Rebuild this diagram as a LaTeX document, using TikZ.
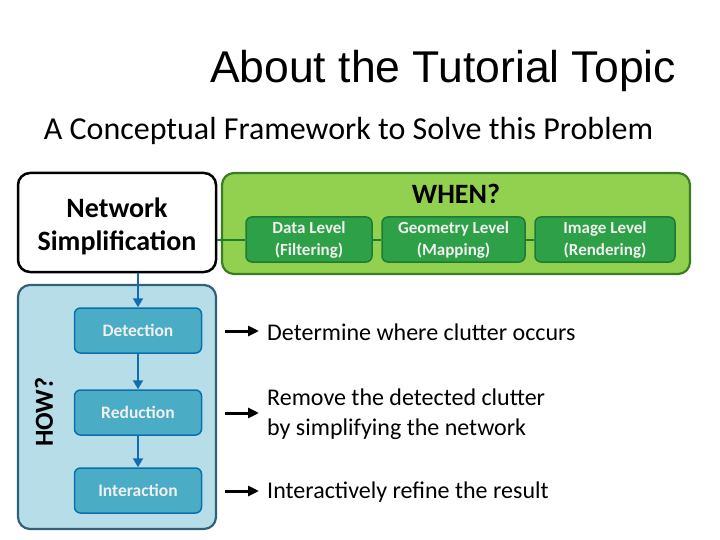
\documentclass[tikz,border=0pt]{standalone}
\usepackage{fontspec}
\setmainfont{Carlito}
\newfontfamily\arialf{Liberation Sans}
\usetikzlibrary{arrows.meta}
\definecolor{gfill}{HTML}{92D050}
\definecolor{gdraw}{HTML}{3B7D23}
\definecolor{gin}{HTML}{2EA048}
\definecolor{gindraw}{HTML}{1E7A34}
\definecolor{bfill}{HTML}{B7DDE8}
\definecolor{bdraw}{HTML}{31607A}
\definecolor{bin}{HTML}{4BACC6}
\definecolor{bindraw}{HTML}{0E6FB0}
\definecolor{barrow}{HTML}{0E6FB0}
\tikzset{
  bigbox/.style={rectangle, rounded corners=12pt, line width=2.2pt},
  gsmall/.style={rectangle, rounded corners=6pt, fill=gin, draw=gindraw, line width=1.5pt,
    minimum height=45pt, text=white!94!black, font=\fontsize{17}{22}\selectfont\bfseries, align=center, inner sep=0pt},
  bsmall/.style={rectangle, rounded corners=6pt, fill=bin, draw=bindraw, line width=1.5pt,
    minimum width=127pt, minimum height=45pt, text=white!94!black, font=\fontsize{17.5}{20}\selectfont\bfseries, inner sep=0pt},
  barr/.style={barrow, line width=2pt, -{Triangle[width=10pt,length=9pt]}},
  karr/.style={black, line width=3pt, -{Triangle[width=10pt,length=11pt]}},
  gline/.style={gindraw, line width=2pt},
  desc/.style={anchor=west, font=\fontsize{24}{30}\selectfont, align=left, inner sep=0pt},
}
\begin{document}
\begin{tikzpicture}[x=1pt,y=-1pt]
\useasboundingbox (0,0) rectangle (720,540);
\node (title) at (443,71) {\arialf\fontsize{44.5}{48}\selectfont About the Tutorial Topic};
\node (sub) at (348.5,131) {\fontsize{32}{36}\selectfont A Conceptual Framework to Solve this Problem};

\node[bigbox, fill=gfill, draw=gdraw, minimum width=468pt, minimum height=101pt] (when) at (456,223.5) {};
\node[font=\fontsize{28}{32}\selectfont\bfseries] (whent) at (456,194) {WHEN?};
\node[bigbox, fill=bfill, draw=bdraw, minimum width=198pt, minimum height=244pt] (how) at (117,407) {};
\node[rotate=90, font=\fontsize{26}{30}\selectfont\bfseries] (howt) at (44,412) {HOW?};

\node[bigbox, fill=white, draw=black, line width=2.5pt, minimum width=198pt, minimum height=99pt] (net) at (117,222.5) {};
\node[align=center, font=\fontsize{28}{33}\selectfont\bfseries] (nett) at (117,226) {Network\\Simplification};

\node[gsmall, minimum width=126pt] (data) at (309,239.5) {Data Level\\(Filtering)};
\node[gsmall, minimum width=143pt] (geo) at (453.5,239.5) {Geometry Level\\(Mapping)};
\node[gsmall, minimum width=140pt] (img) at (605,239.5) {Image Level\\(Rendering)};
\draw[gline] (data.west -| net.east) -- (data.west);
\draw[gline] (data.east) -- (geo.west);
\draw[gline] (geo.east) -- (img.west);

\node[bsmall] (det) at (138,330.5) {Detection};
\node[bsmall] (red) at (138,412.5) {Reduction};
\node[bsmall] (int) at (138,490.5) {Interaction};
\draw[barr] (net.south -| det.north) -- (det.north);
\draw[barr] (det) -- (red);
\draw[barr] (red) -- (int);

\node[desc] (d1) at (267,332) {Determine where clutter occurs};
\node[desc] (d2) at (267,414) {Remove the detected clutter\\by simplifying the network};
\node[desc] (d3) at (267,492) {Interactively refine the result};
\coordinate (s1) at (225,331);
\coordinate (s2) at (225,413);
\coordinate (s3) at (225,491);
\draw[karr] (s1) -- ([xshift=-8pt]d1.west |- s1);
\draw[karr] (s2) -- ([xshift=-8pt]d2.west |- s2);
\draw[karr] (s3) -- ([xshift=-8pt]d3.west |- s3);
\end{tikzpicture}
\end{document}
